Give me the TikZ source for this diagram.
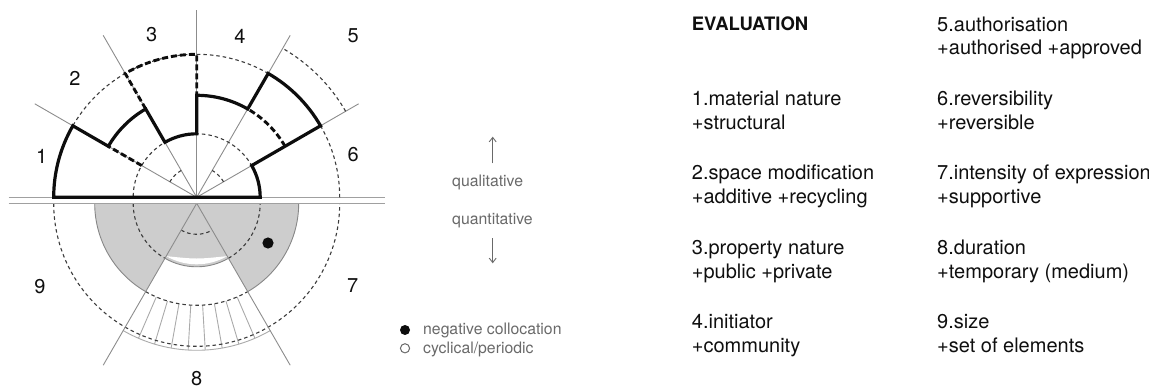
\documentclass[tikz,border=0pt]{standalone}
\usepackage{fontspec}
\setmainfont{TeX Gyre Heros}
\usetikzlibrary{arrows.meta}
\definecolor{raygray}{RGB}{140,140,140}
\definecolor{dashgray}{RGB}{60,60,60}
\definecolor{fillgray}{RGB}{205,205,205}
\definecolor{fillline}{RGB}{135,135,135}
\definecolor{hatchgray}{RGB}{170,170,170}
\definecolor{basegray}{RGB}{160,160,160}
\definecolor{textdark}{RGB}{15,15,15}
\definecolor{textgray}{RGB}{105,105,105}
\newcommand\bodyfnt{\fontsize{20}{24}\selectfont}
\newcommand\headfnt{\fontsize{18.5}{22}\selectfont\bfseries}
\newcommand\smallfnt{\fontsize{15.8}{19}\selectfont}
\begin{document}
\begin{tikzpicture}[x=1pt,y=1pt,
  ray/.style={draw=raygray,line width=0.9pt},
  baseln/.style={draw=basegray,line width=1.3pt},
  thindash/.style={draw=dashgray,line width=1.1pt,dash pattern=on 3.5pt off 3pt},
  thickln/.style={draw=black!95,line width=3.2pt,line join=miter},
  thickdash/.style={draw=black!95,line width=2.9pt,dash pattern=on 6pt off 3pt},
  hatch/.style={draw=hatchgray,line width=0.9pt},
  num/.style={inner sep=0pt,text=textdark,font=\bodyfnt},
  txt/.style={inner sep=0pt,anchor=base west,text=textdark,font=\bodyfnt},
  smalltxt/.style={inner sep=0pt,anchor=base west,text=textgray,font=\smallfnt},
  legarrow/.style={draw=textgray,line width=0.9pt,-{Straight Barb[length=4.5pt,width=7pt]}}
]
\useasboundingbox (0,0) rectangle (1149,391);
\coordinate (T) at (196.7,193.7);
\coordinate (B) at (196.7,187.7);

% ---------- bottom half ----------
\begin{scope}[shift={(B)}]
  \fill[fillgray] (0,0) -- (180:102) arc[start angle=180,end angle=240,radius=102] -- cycle;
  \fill[fillgray] (0,0) -- (300:102) arc[start angle=300,end angle=360,radius=102] -- cycle;
  \fill[fillgray] (0,0) -- (240:63.5) arc[start angle=240,end angle=300,radius=63.5] -- cycle;
  \fill[white] (240:61) arc[start angle=240,end angle=300,radius=61] .. controls (0,-56) .. (240:61) -- cycle;
  \draw[fillline,line width=0.9pt] (240:63.5) arc[start angle=240,end angle=300,radius=63.5];
  \draw[fillline,line width=0.9pt] (180:102) arc[start angle=180,end angle=240,radius=102];
  \draw[fillline,line width=0.9pt] (300:102) arc[start angle=300,end angle=360,radius=102];
  % hatched ring of sector 8
  \draw[hatch] (240:147) arc[start angle=240,end angle=300,radius=147];
  \foreach \k in {1,...,8} \draw[hatch] ({240+\k*60/9}:102) -- ({240+\k*60/9}:147);
  % dashed circles
  \draw[thindash] (240:102) arc[start angle=240,end angle=300,radius=102];
  \draw[thindash] (180:143) arc[start angle=180,end angle=360,radius=143];
  \draw[thindash] (180:63.5) arc[start angle=180,end angle=240,radius=63.5];
  \draw[thindash] (300:63.5) arc[start angle=300,end angle=360,radius=63.5];
  \draw[thindash] (240:31) arc[start angle=240,end angle=300,radius=31];
  % rays and base line
  \draw[ray] (0,0) -- (240:187);
  \draw[ray] (0,0) -- (300:187);
  \draw[baseln] (-188,0) -- (188,0);
\end{scope}
\fill[black!95] (268,148) circle[radius=5.6];

% ---------- top half ----------
\begin{scope}[shift={(T)}]
  \foreach \a in {30,60,90,120,150} \draw[ray] (0,0) -- (\a:187);
  \draw[baseln] (-188,0) -- (188,0);
  \draw[thindash] (0:143) arc[start angle=0,end angle=180,radius=143];
  \draw[thindash] (0:63.5) arc[start angle=0,end angle=180,radius=63.5];
  \draw[thindash] (30:172) arc[start angle=30,end angle=60,radius=172];
  \draw[thindash] (120:31) arc[start angle=120,end angle=150,radius=31];
  \draw[thindash] (30:31) arc[start angle=30,end angle=60,radius=31];
  \draw[thickln] (180:143) arc[start angle=180,end angle=150,radius=143]
     -- (150:102) arc[start angle=150,end angle=120,radius=102]
     -- (120:63.5) arc[start angle=120,end angle=90,radius=63.5]
     -- (90:102) arc[start angle=90,end angle=60,radius=102]
     -- (60:143) arc[start angle=60,end angle=30,radius=143]
     -- (30:63.5) arc[start angle=30,end angle=0,radius=63.5] -- cycle;
  \draw[thickdash] (150:63.5) -- (150:102);
  \draw[thickdash] (120:102) -- (120:143) arc[start angle=120,end angle=90,radius=143] -- (90:102);
  \draw[thickdash] (30:102) arc[start angle=30,end angle=60,radius=102];
\end{scope}

% ---------- sector numbers ----------
\node[num] (n1) at (41.7,234.3) {1};
\node[num] (n2) at (75,313) {2};
\node[num] (n3) at (151.7,356) {3};
\node[num] (n4) at (240,355) {4};
\node[num] (n5) at (353.3,355) {5};
\node[num] (n6) at (353.3,236) {6};
\node[num] (n7) at (352.7,105) {7};
\node[num] (n8) at (196.7,12) {8};
\node[num] (n9) at (40,104.3) {9};

% ---------- middle legend ----------
\coordinate (up1) at (492.7,227.7);
\coordinate (up2) at (492.7,254.3);
\coordinate (dn1) at (492.7,152.7);
\coordinate (dn2) at (492.7,127.7);
\draw[legarrow] (up1) -- (up2);
\draw[legarrow] (dn1) -- (dn2);
\node[smalltxt] (qual) at (452,204.3) {qualitative};
\node[smalltxt] (quant) at (452,166) {quantitative};
\fill[black!95] (405,61) circle[radius=5];
\draw[textgray,line width=1pt] (405,42.7) circle[radius=4.6];
\node[smalltxt] (neg) at (423,56) {negative collocation};
\node[smalltxt] (cyc) at (423,37.7) {cyclical/periodic};

% ---------- text columns ----------
\node[txt,font=\headfnt] (eval) at (691.7,360.3) {EVALUATION};
\node[txt] (a1) at (691.7,285) {1.material nature};
\node[txt] (b1) at (691.7,261) {+structural};
\node[txt] (a2) at (691.7,211) {2.space modification};
\node[txt] (b2) at (691.7,187) {+additive +recycling};
\node[txt] (a3) at (691.7,136) {3.property nature};
\node[txt] (b3) at (691.7,112) {+public +private};
\node[txt] (a4) at (691.7,62) {4.initiator};
\node[txt] (b4) at (691.7,38) {+community};

\node[txt] (a5) at (937,359.3) {5.authorisation};
\node[txt] (b5) at (937,336.3) {+authorised +approved};
\node[txt] (a6) at (937,285) {6.reversibility};
\node[txt] (b6) at (937,261) {+reversible};
\node[txt] (a7) at (937,211) {7.intensity of expression};
\node[txt] (b7) at (937,187) {+supportive};
\node[txt] (a8) at (937,136) {8.duration};
\node[txt] (b8) at (937,112) {+temporary (medium)};
\node[txt] (a9) at (937,62) {9.size};
\node[txt] (b9) at (937,38) {+set of elements};
\end{tikzpicture}
\end{document}
